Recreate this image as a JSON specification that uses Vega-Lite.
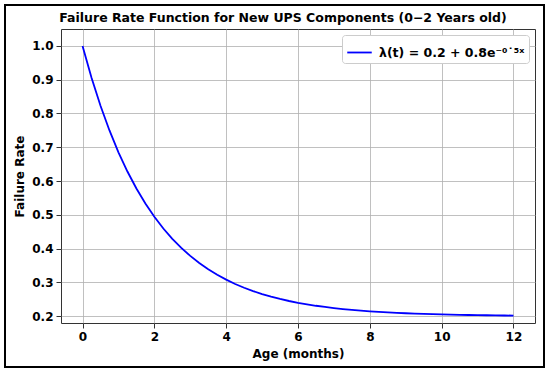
{
  "$schema": "https://vega.github.io/schema/vega-lite/v6.json",
  "width": 474,
  "height": 294,
  "autosize": {"type": "none"},
  "padding": {"left": 61, "top": 29, "right": 15, "bottom": 50},
  "background": "white",
  "title": {"text": "Failure Rate Function for New UPS Components (0−2 Years old)", "font": "DejaVu Sans", "fontSize": 12.5, "fontWeight": "bold", "color": "black", "offset": -20, "dx": -15},
  "config": {
    "view": {"stroke": "#333333", "strokeWidth": 1},
    "axis": {
      "grid": true, "gridColor": "#b0b0b0", "gridWidth": 0.8,
      "domain": false,
      "tickColor": "#333333", "tickSize": 5, "tickWidth": 1,
      "labelFont": "DejaVu Sans", "labelFontSize": 12, "labelFontWeight": "bold", "labelColor": "black", "labelPadding": 3,
      "titleFont": "DejaVu Sans", "titleFontSize": 12, "titleFontWeight": "bold", "titleColor": "black"
    }
  },
  "layer": [
    {
      "data": {"values": [{"frame": 1}]},
      "mark": {"type": "rect", "fill": null, "stroke": "black", "strokeWidth": 2, "clip": false},
      "encoding": {"x": {"value": -56}, "x2": {"value": 483}, "y": {"value": -24}, "y2": {"value": 338}}
    },
    {
      "data": {"values": [
        {"x": 0, "y": 1.0}, {"x": 0.25, "y": 0.906}, {"x": 0.5, "y": 0.823}, {"x": 0.75, "y": 0.7498},
        {"x": 1, "y": 0.6852}, {"x": 1.25, "y": 0.6282}, {"x": 1.5, "y": 0.5779}, {"x": 1.75, "y": 0.5335},
        {"x": 2, "y": 0.4943}, {"x": 2.25, "y": 0.4597}, {"x": 2.5, "y": 0.4292}, {"x": 2.75, "y": 0.4023},
        {"x": 3, "y": 0.3785}, {"x": 3.25, "y": 0.3575}, {"x": 3.5, "y": 0.339}, {"x": 3.75, "y": 0.3227},
        {"x": 4, "y": 0.3083}, {"x": 4.25, "y": 0.2955}, {"x": 4.5, "y": 0.2843}, {"x": 4.75, "y": 0.2744},
        {"x": 5, "y": 0.2657}, {"x": 5.25, "y": 0.258}, {"x": 5.5, "y": 0.2511}, {"x": 5.75, "y": 0.2451},
        {"x": 6, "y": 0.2398}, {"x": 6.25, "y": 0.2352}, {"x": 6.5, "y": 0.231}, {"x": 6.75, "y": 0.2274},
        {"x": 7, "y": 0.2242}, {"x": 7.25, "y": 0.2213}, {"x": 7.5, "y": 0.2188}, {"x": 7.75, "y": 0.2166},
        {"x": 8, "y": 0.2147}, {"x": 8.25, "y": 0.2129}, {"x": 8.5, "y": 0.2114}, {"x": 8.75, "y": 0.2101},
        {"x": 9, "y": 0.2089}, {"x": 9.25, "y": 0.2078}, {"x": 9.5, "y": 0.2069}, {"x": 9.75, "y": 0.2061},
        {"x": 10, "y": 0.2054}, {"x": 10.25, "y": 0.2048}, {"x": 10.5, "y": 0.2042}, {"x": 10.75, "y": 0.2037},
        {"x": 11, "y": 0.2033}, {"x": 11.25, "y": 0.2029}, {"x": 11.5, "y": 0.2025}, {"x": 11.75, "y": 0.2022},
        {"x": 12, "y": 0.202}
      ]},
      "mark": {"type": "line", "strokeWidth": 1.8},
      "encoding": {
        "x": {"field": "x", "type": "quantitative", "title": "Age (months)",
              "scale": {"domain": [-0.6, 12.6], "nice": false, "zero": false},
              "axis": {"values": [0, 2, 4, 6, 8, 10, 12], "titlePadding": 6}},
        "y": {"field": "y", "type": "quantitative", "title": "Failure Rate",
              "scale": {"domain": [0.18, 1.05], "nice": false, "zero": false},
              "axis": {"values": [0.2, 0.3, 0.4, 0.5, 0.6, 0.7, 0.8, 0.9, 1.0], "format": ".1f", "titlePadding": 5}},
        "color": {"datum": "λ(t) = 0.2 + 0.8e⁻⁰˙⁵ˣ", "type": "nominal",
                  "scale": {"range": ["#0000ff"]},
                  "legend": {"title": null, "orient": "top-right", "offset": 6,
                             "fillColor": "white", "strokeColor": "#cccccc", "cornerRadius": 3, "padding": 4,
                             "symbolType": "stroke", "symbolStrokeWidth": 1.8, "symbolSize": 600, "symbolOffset": 0,
                             "labelFont": "DejaVu Sans", "labelFontSize": 12.5, "labelFontWeight": "bold", "labelColor": "black", "labelOffset": 6}}
      }
    }
  ]
}
